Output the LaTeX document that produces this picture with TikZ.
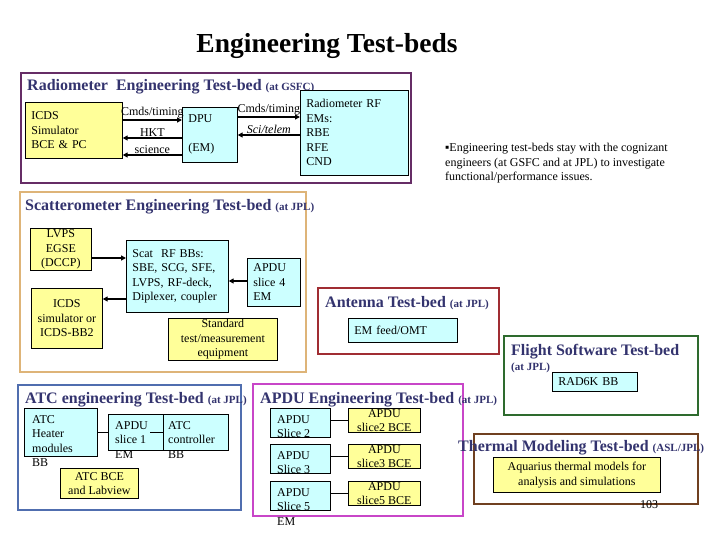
\documentclass[tikz,border=0pt]{standalone}
\usepackage{fontspec}
\setmainfont{Liberation Serif}
\usetikzlibrary{positioning,arrows.meta,calc}
\definecolor{ttlnavy}{RGB}{51,51,110}
\definecolor{cyanfill}{RGB}{204,255,255}
\definecolor{yelfill}{RGB}{255,255,153}
\definecolor{radpurple}{RGB}{102,45,102}
\definecolor{scattan}{RGB}{222,180,120}
\definecolor{antred}{RGB}{160,45,50}
\definecolor{fswgreen}{RGB}{46,107,46}
\definecolor{atcblue}{RGB}{80,110,175}
\definecolor{apdumag}{RGB}{200,70,200}
\definecolor{thmbrown}{RGB}{112,64,32}
\newcommand{\boxfont}{\fontsize{12}{14.5}\selectfont}
\newcommand{\tagfont}{\fontsize{11}{13}\selectfont}

\begin{document}
\begin{tikzpicture}[
  x=1pt, y=-1pt,
  >={Triangle[length=5pt,width=5pt]},
  bed/.style={draw=#1, line width=2.4pt, inner sep=0pt, anchor=north west},
  bedttl/.style={font=\fontsize{16}{18}\selectfont\bfseries, text=ttlnavy, anchor=base west, inner sep=0pt},
  cbox/.style={draw, line width=0.7pt, fill=cyanfill, font=\boxfont, inner xsep=6pt, inner ysep=0pt, anchor=north west},
  ybox/.style={draw, line width=0.7pt, fill=yelfill, font=\boxfont, inner xsep=6pt, inner ysep=0pt, anchor=north west},
  boxtxt/.style={font=\boxfont, inner sep=0pt, align=left, anchor=north west},
  sig/.style={->, line width=1.5pt},
  siglbl/.style={font=\boxfont, inner sep=1pt, above},
  lnk/.style={line width=0.8pt},
]
\useasboundingbox (0,0) rectangle (720,540);

\node[font=\fontsize{27.5}{30}\selectfont\bfseries] (maintitle) at (327,46) {Engineering Test-beds};

% ---- radiometer test-bed ----
\node[bed=radpurple, minimum width=390, minimum height=110] (radbed) at (20,72) {};
\node[bedttl] (radttl) at (27,91) {Radiometer~~Engineering Test-bed {\tagfont(at GSFC)}};
\node[ybox, minimum width=97, minimum height=56, text width=85, align=left] (icds) at (25,102)
  {ICDS\\Simulator\\BCE \& PC};
\node[cbox, minimum width=55, minimum height=55, text width=43, align=left] (dpu) at (182,107)
  {DPU\\[14.5pt](EM)};
\node[cbox, minimum width=108, minimum height=85, text width=96, align=left] (rfem) at (300,90)
  {Radiometer RF\\EMs:\\RBE\\RFE\\CND};

\draw[sig] (icds.east |- 0,120) -- node[siglbl] (cmdlbl) {Cmds/timing} (dpu.west |- 0,120);
\draw[sig] (dpu.west |- 0,138) -- node[siglbl] (hktlbl) {HKT} (icds.east |- 0,138);
\draw[sig] (dpu.west |- 0,155) -- node[siglbl] (scilbl) {science} (icds.east |- 0,155);
\draw[sig] (dpu.east |- 0,117) -- node[siglbl] (rfcmdlbl) {Cmds/timing} (rfem.west |- 0,117);
\draw[sig] (rfem.west |- 0,135) -- node[siglbl, font=\boxfont\itshape] (telemlbl) {Sci/telem} (dpu.east |- 0,135);

\node[boxtxt] (note) at (445,143)
  {▪Engineering test-beds stay with the cognizant\\engineers (at GSFC and at JPL) to investigate\\functional/performance issues.};

% ---- scatterometer test-bed ----
\node[bed=scattan, minimum width=286, minimum height=180] (scatbed) at (19,191) {};
\node[bedttl] (scatttl) at (25,211) {Scatterometer Engineering Test-bed {\tagfont(at JPL)}};
\node[ybox, minimum width=61, minimum height=42, align=center] (lvps) at (30,228) {LVPS\\EGSE\\(DCCP)};
\node[ybox, minimum width=71, minimum height=60, align=center] (icdssim) at (31,288) {ICDS\\simulator or\\ICDS-BB2};
\node[cbox, minimum width=102, minimum height=72, text width=90, align=left] (scatrf) at (126,240)
  {Scat~~RF BBs:\\SBE, SCG, SFE,\\LVPS, RF-deck,\\Diplexer, coupler};
\node[cbox, minimum width=53, minimum height=48, text width=41, align=left] (apdufour) at (247,258) {APDU\\slice 4\\EM};
\node[ybox, minimum width=109, minimum height=42, align=center] (stdeq) at (168,318) {Standard\\test/measurement\\equipment};

\draw[sig] (lvps.east |- 0,258) -- (scatrf.west |- 0,258);
\draw[sig] (scatrf.west |- 0,299) -- (icdssim.east |- 0,299);
\draw[sig] (apdufour.west |- 0,281) -- (scatrf.east |- 0,281);

% ---- antenna test-bed ----
\node[bed=antred, minimum width=181, minimum height=66] (antbed) at (317,287) {};
\node[bedttl] (antttl) at (325,307) {Antenna Test-bed {\tagfont(at JPL)}};
\node[cbox, minimum width=109, minimum height=24, text width=97, align=left] (emfeed) at (348,318) {EM feed/OMT};

% ---- flight software test-bed ----
\node[bed=fswgreen, minimum width=194, minimum height=79] (fswbed) at (503,335) {};
\node[bedttl] (fswttl) at (511,355) {Flight Software Test-bed};
\node[bedttl, font=\tagfont\bfseries] (fswtag) at (511,370) {(at JPL)};
\node[cbox, minimum width=85, minimum height=19, text width=73, align=left] (rad) at (552,372) {RAD6K BB};

% ---- ATC test-bed ----
\node[bed=atcblue, minimum width=223, minimum height=125] (atcbed) at (17,384) {};
\node[bedttl] (atcttl) at (25,403) {ATC engineering Test-bed {\tagfont(at JPL)}};
\node[cbox, minimum width=73, minimum height=48] (heater) at (24,408) {};
\node[boxtxt] (heatertxt) at ([shift={(8,7)}]heater.north west) {ATC\\Heater\\modules\\BB};
\node[cbox, minimum width=55, minimum height=36] (apduone) at (108,414) {};
\node[boxtxt] (apduonetxt) at ([shift={(7,7)}]apduone.north west) {APDU\\slice 1\\EM};
\node[cbox, minimum width=65, minimum height=36] (atcctrl) at (163,414) {};
\node[boxtxt] (atcctrltxt) at ([shift={(5,7)}]atcctrl.north west) {ATC\\controller\\BB};
\node[ybox, minimum width=78, minimum height=30, align=center] (atcbce) at (60,468) {ATC BCE\\and Labview};

\draw[lnk] (heater.east |- 0,432) -- (apduone.west |- 0,432);
\coordinate (apduonetick) at (150,432);
\draw[lnk] (apduonetick) -- (atcctrl.west |- apduonetick);

% ---- APDU test-bed ----
\node[bed=apdumag, minimum width=210, minimum height=132] (apdubed) at (252,383) {};
\node[bedttl] (apduttl) at (260,403) {APDU Engineering Test-bed {\tagfont(at JPL)}};
\node[cbox, minimum width=60, minimum height=29] (slicetwo) at (270,408) {};
\node[boxtxt] (slicetwotxt) at ([shift={(7,7)}]slicetwo.north west) {APDU\\Slice 2};
\node[cbox, minimum width=60, minimum height=29] (slicethree) at (270,444) {};
\node[boxtxt] (slicethreetxt) at ([shift={(7,7)}]slicethree.north west) {APDU\\Slice 3};
\node[cbox, minimum width=60, minimum height=29] (slicefive) at (270,481) {};
\node[boxtxt] (slicefivetxt) at ([shift={(7,7)}]slicefive.north west) {APDU\\Slice 5\\EM};

\node[ybox, minimum width=72, minimum height=24] (bcetwo) at (348,408) {};
\node[boxtxt, anchor=north, align=center] (bcetwotxt) at ([shift={(0,1)}]bcetwo.north) {APDU\\slice2 BCE};
\node[ybox, minimum width=72, minimum height=24] (bcethree) at (348,444) {};
\node[boxtxt, anchor=north, align=center] (bcethreetxt) at ([shift={(0,1)}]bcethree.north) {APDU\\slice3 BCE};
\node[ybox, minimum width=72, minimum height=24] (bcefive) at (348,481) {};
\node[boxtxt, anchor=north, align=center] (bcefivetxt) at ([shift={(0,1)}]bcefive.north) {APDU\\slice5 BCE};

\draw[lnk] (slicetwo.east |- bcetwo.west) -- (bcetwo.west);
\draw[lnk] (slicethree.east |- bcethree.west) -- (bcethree.west);
\draw[lnk] (slicefive.east |- bcefive.west) -- (bcefive.west);

% ---- thermal modeling test-bed ----
\node[bed=thmbrown, minimum width=224, minimum height=70] (thmbed) at (473,433) {};
\node[bedttl] (thmttl) at (458,451) {Thermal Modeling Test-bed {\tagfont(ASL/JPL)}};
\node[ybox, minimum width=167, minimum height=35, align=center] (aquarius) at (493,457)
  {Aquarius thermal models for\\analysis and simulations};

\node[font=\boxfont] (pagenum) at (649,505) {103};

\end{tikzpicture}
\end{document}
